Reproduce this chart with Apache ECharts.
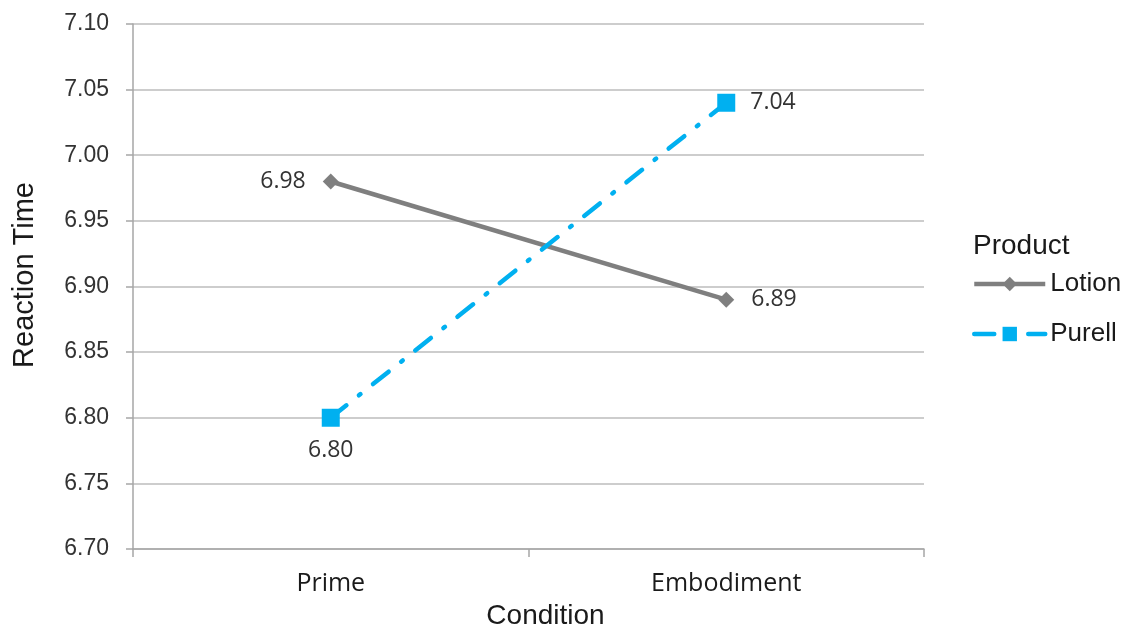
<!DOCTYPE html>
<html><head><meta charset="utf-8">
<script src="https://cdn.jsdelivr.net/npm/echarts@6/dist/echarts.min.js"></script>
<style>html,body{margin:0;padding:0;background:#fff}#c{width:1121px;height:628px}</style>
</head><body><div id="c"></div>
<script>
const categories = ['Prime', 'Embodiment'];
const lotion = [6.98, 6.89];
const purell = [6.80, 7.04];
const yTicks = { min: 6.70, max: 7.10, interval: 0.05 };

const chart = echarts.init(document.getElementById('c'), null, {renderer: 'canvas'});
const font = 'Liberation Sans, Arial, sans-serif';
const lblFont = 'Open Sans, DejaVu Sans, sans-serif';
chart.setOption({
  animation: false,
  grid: { left: 133, right: 197, top: 24, bottom: 79, containLabel: false, outerBoundsMode: 'none' },
  xAxis: {
    type: 'category', data: categories, boundaryGap: true,
    name: 'Condition', nameLocation: 'middle', nameGap: 53,
    nameTextStyle: { fontSize: 28, color: '#1a1a1a', fontFamily: font, padding: [0, 0, 0, 34] },
    axisLine: { lineStyle: { color: '#a6a6a6', width: 1.5 } },
    axisTick: { show: true, length: 8, lineStyle: { color: '#a6a6a6', width: 1.5 } },
    axisLabel: { fontSize: 25, color: '#1a1a1a', margin: 22, fontFamily: lblFont }
  },
  yAxis: {
    type: 'value', min: yTicks.min, max: yTicks.max, interval: yTicks.interval,
    name: 'Reaction Time', nameLocation: 'middle', nameGap: 94,
    nameTextStyle: { fontSize: 29, color: '#1a1a1a', fontFamily: font, padding: [0, 0, 0, 23] },
    axisLine: { show: true, lineStyle: { color: '#a6a6a6', width: 1.5 } },
    axisTick: { show: true, inside: false, length: 7, lineStyle: { color: '#a6a6a6', width: 1.5 } },
    splitLine: { show: true, lineStyle: { color: '#bdbdbd', width: 1.5 } },
    axisLabel: { fontSize: 23, color: '#333333', margin: 24, fontFamily: font,
      formatter: v => v.toFixed(2) }
  },
  legend: {
    orient: 'vertical', left: 967, top: 266, itemGap: 24,
    itemWidth: 71, itemHeight: 18,
    textStyle: { fontSize: 26, color: '#1a1a1a', fontFamily: font },
    data: [
      { name: 'Lotion', lineStyle: { width: 4.5 } },
      { name: 'Purell', lineStyle: { width: 4.5 } }
    ]
  },
  graphic: [{
    type: 'text', left: 973, top: 232,
    style: { text: 'Product', fontSize: 28, fill: '#1a1a1a', fontFamily: font }
  }],
  series: [
    {
      name: 'Lotion', type: 'line',
      symbol: 'diamond', symbolSize: 16,
      itemStyle: { color: '#7f7f7f' },
      lineStyle: { color: '#7f7f7f', width: 4.5 },
      label: { show: true, fontSize: 23, color: '#333333', fontFamily: lblFont,
        formatter: p => p.value.toFixed(2), distance: 17 },
      data: [
        { value: lotion[0], label: { position: 'left' } },
        { value: lotion[1], label: { position: 'right' } }
      ]
    },
    {
      name: 'Purell', type: 'line',
      symbol: 'rect', symbolSize: 18,
      itemStyle: { color: '#00b0f0' },
      lineStyle: { color: '#00b0f0', width: 4.5, type: [20, 16, 2, 16], cap: 'round' },
      label: { show: true, fontSize: 23, color: '#333333', fontFamily: lblFont,
        formatter: p => p.value.toFixed(2), distance: 15 },
      data: [
        { value: purell[0], label: { position: 'bottom', distance: 12 } },
        { value: purell[1], label: { position: 'right' } }
      ]
    }
  ]
});
</script></body></html>
